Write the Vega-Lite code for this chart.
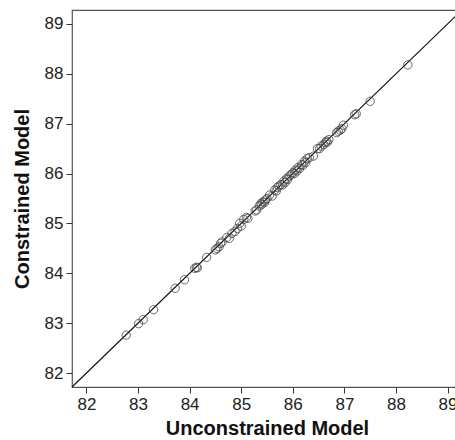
{
  "$schema": "https://vega.github.io/schema/vega-lite/v6.json",
  "width": 390,
  "height": 377,
  "autosize": "none",
  "padding": {"left": 72, "top": 10, "right": 0, "bottom": 53},
  "background": "white",
  "config": {
    "view": {"stroke": "#555", "strokeWidth": 1.2},
    "font": "Liberation Sans",
    "axis": {
      "grid": false,
      "domain": false,
      "tickColor": "#333",
      "tickSize": 6,
      "tickWidth": 1,
      "labelFont": "Liberation Sans",
      "labelFontSize": 17,
      "labelColor": "#222",
      "titleFont": "Liberation Sans",
      "titleFontSize": 20,
      "titleFontWeight": "bold",
      "titleColor": "#111"
    }
  },
  "layer": [
    {
      "data": {"values": [{"x": 81.72, "y": 81.72, "x2": 89.28, "y2": 89.28}]},
      "mark": {"type": "rule", "color": "#111", "strokeWidth": 1.2},
      "encoding": {
        "x": {"field": "x", "type": "quantitative", "scale": {"domain": [81.72, 89.28], "nice": false, "zero": false}},
        "y": {"field": "y", "type": "quantitative", "scale": {"domain": [81.72, 89.28], "nice": false, "zero": false}},
        "x2": {"field": "x2"},
        "y2": {"field": "y2"}
      }
    },
    {
      "data": {"values": [
        {"u": 82.77, "c": 82.76}, {"u": 83.01, "c": 82.99}, {"u": 83.10, "c": 83.07}, {"u": 83.30, "c": 83.27},
        {"u": 83.72, "c": 83.70}, {"u": 83.90, "c": 83.87}, {"u": 84.10, "c": 84.10}, {"u": 84.13, "c": 84.12},
        {"u": 84.15, "c": 84.11}, {"u": 84.33, "c": 84.32}, {"u": 84.50, "c": 84.47}, {"u": 84.53, "c": 84.50},
        {"u": 84.57, "c": 84.53}, {"u": 84.60, "c": 84.60}, {"u": 84.63, "c": 84.63}, {"u": 84.72, "c": 84.72},
        {"u": 84.77, "c": 84.70}, {"u": 84.82, "c": 84.80}, {"u": 84.88, "c": 84.84}, {"u": 84.93, "c": 84.90},
        {"u": 84.97, "c": 85.00}, {"u": 85.00, "c": 84.95}, {"u": 85.05, "c": 85.08}, {"u": 85.10, "c": 85.12},
        {"u": 85.13, "c": 85.10}, {"u": 85.27, "c": 85.25}, {"u": 85.30, "c": 85.27}, {"u": 85.35, "c": 85.35},
        {"u": 85.38, "c": 85.40}, {"u": 85.40, "c": 85.38}, {"u": 85.42, "c": 85.43}, {"u": 85.45, "c": 85.42},
        {"u": 85.47, "c": 85.47}, {"u": 85.50, "c": 85.50}, {"u": 85.55, "c": 85.57}, {"u": 85.60, "c": 85.55},
        {"u": 85.65, "c": 85.67}, {"u": 85.68, "c": 85.65}, {"u": 85.70, "c": 85.72}, {"u": 85.73, "c": 85.75},
        {"u": 85.77, "c": 85.78}, {"u": 85.80, "c": 85.77}, {"u": 85.83, "c": 85.85}, {"u": 85.85, "c": 85.82},
        {"u": 85.88, "c": 85.90}, {"u": 85.90, "c": 85.88}, {"u": 85.93, "c": 85.95}, {"u": 85.97, "c": 85.98},
        {"u": 86.00, "c": 86.02}, {"u": 86.03, "c": 86.00}, {"u": 86.05, "c": 86.07}, {"u": 86.08, "c": 86.05},
        {"u": 86.10, "c": 86.12}, {"u": 86.13, "c": 86.10}, {"u": 86.17, "c": 86.18}, {"u": 86.20, "c": 86.17},
        {"u": 86.23, "c": 86.25}, {"u": 86.25, "c": 86.22}, {"u": 86.28, "c": 86.30}, {"u": 86.32, "c": 86.32},
        {"u": 86.40, "c": 86.35}, {"u": 86.48, "c": 86.50}, {"u": 86.52, "c": 86.50}, {"u": 86.55, "c": 86.55},
        {"u": 86.60, "c": 86.58}, {"u": 86.63, "c": 86.62}, {"u": 86.65, "c": 86.65}, {"u": 86.67, "c": 86.63},
        {"u": 86.70, "c": 86.68}, {"u": 86.85, "c": 86.82}, {"u": 86.88, "c": 86.85}, {"u": 86.92, "c": 86.87},
        {"u": 86.95, "c": 86.90}, {"u": 86.98, "c": 86.97}, {"u": 87.20, "c": 87.18}, {"u": 87.23, "c": 87.20},
        {"u": 87.50, "c": 87.45}, {"u": 88.23, "c": 88.18}
      ]},
      "mark": {"type": "point", "shape": "circle", "filled": false, "stroke": "#444", "strokeWidth": 0.8, "size": 70, "opacity": 1},
      "encoding": {
        "x": {"field": "u", "type": "quantitative", "title": "Unconstrained Model",
              "axis": {"values": [82, 83, 84, 85, 86, 87, 88, 89], "format": "d", "labelPadding": 3, "titlePadding": 6}},
        "y": {"field": "c", "type": "quantitative", "title": "Constrained Model",
              "axis": {"values": [82, 83, 84, 85, 86, 87, 88, 89], "format": "d", "labelPadding": 3, "titlePadding": 12}}
      }
    }
  ]
}
